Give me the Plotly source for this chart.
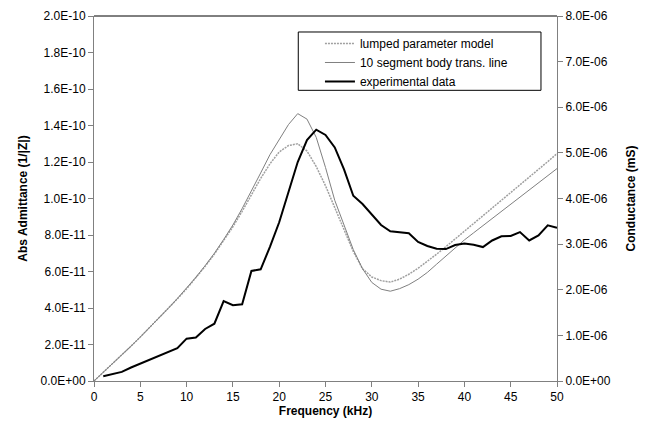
import plotly.graph_objects as go

# Frequency points (kHz)
freq_model = list(range(0, 51))
freq_exp = list(range(1, 51))

# Abs admittance, units of 1e-12 (1/|Z|)
lumped = [0, 4.7, 9.4, 14.2, 19.1, 24.1, 29.2, 34.4, 39.7, 45.0,
          50.5, 56.5, 62.8, 69.5, 76.8, 84.5, 93.0, 102.0, 111.0, 119.0,
          125.5, 129.0, 130.0, 126.0, 117.5, 107.0, 95.0, 82.0, 71.0, 61.5,
          57.0, 55.0, 54.2, 55.8, 58.5, 61.8, 65.5, 69.5, 73.6, 77.8,
          82.0, 86.2, 90.4, 94.6, 98.8, 103.0, 107.3, 111.6, 115.9, 120.2,
          124.6]
trans_line = [0, 4.7, 9.4, 14.2, 19.1, 24.1, 29.2, 34.4, 39.7, 45.2,
              50.8, 56.8, 63.2, 70.0, 77.5, 85.5, 94.5, 104.0, 114.0, 124.0,
              132.5, 140.5, 146.5, 143.5, 133.5, 117.0, 99.0, 85.0, 72.0, 61.5,
              54.0, 50.3, 49.2, 50.6, 52.8, 55.8, 59.5, 64.0, 68.5, 73.0,
              77.3, 81.2, 85.1, 89.0, 93.0, 96.9, 100.8, 104.7, 108.6, 112.5,
              116.4]
# Conductance, units of 1e-6 mS
experimental = [0.104, 0.148, 0.200, 0.296, 0.384, 0.472, 0.552, 0.632, 0.720, 0.928,
                0.952, 1.140, 1.256, 1.752, 1.660, 1.680, 2.412, 2.448, 2.940, 3.480,
                4.120, 4.800, 5.280, 5.508, 5.392, 5.120, 4.640, 4.060, 3.880, 3.660,
                3.420, 3.280, 3.252, 3.240, 3.048, 2.960, 2.900, 2.892, 2.980, 3.012,
                2.988, 2.936, 3.080, 3.172, 3.180, 3.264, 3.080, 3.192, 3.412, 3.360]

left_tickvals = [i * 2e-11 for i in range(11)]
left_ticktext = ["0.0E+00", "2.0E-11", "4.0E-11", "6.0E-11", "8.0E-11", "1.0E-10",
                 "1.2E-10", "1.4E-10", "1.6E-10", "1.8E-10", "2.0E-10"]
right_tickvals = [i * 1e-6 for i in range(9)]
right_ticktext = ["0.0E+00", "1.0E-06", "2.0E-06", "3.0E-06", "4.0E-06", "5.0E-06",
                  "6.0E-06", "7.0E-06", "8.0E-06"]
x_tickvals = [0, 5, 10, 15, 20, 25, 30, 35, 40, 45, 50]

FONT = "Liberation Sans, Arial, sans-serif"
AXC = "#808080"

fig = go.Figure()
fig.add_trace(go.Scatter(x=freq_model, y=[v * 1e-12 for v in lumped], mode="lines",
                         name="lumped parameter model",
                         line=dict(color="#a0a0a0", width=1.5, dash="2px,1px")))
fig.add_trace(go.Scatter(x=freq_model, y=[v * 1e-12 for v in trans_line], mode="lines",
                         name="10 segment body trans. line",
                         line=dict(color="#808080", width=1)))
fig.add_trace(go.Scatter(x=freq_exp, y=[v * 1e-6 for v in experimental], mode="lines",
                         name="experimental data", yaxis="y2",
                         line=dict(color="#000000", width=2)))

fig.update_layout(
    width=639, height=423,
    margin=dict(l=86, r=90, t=8, b=50, autoexpand=False),
    paper_bgcolor="white", plot_bgcolor="white",
    font=dict(family=FONT, size=12, color="black"),
    showlegend=True,
    legend=dict(x=0.488, y=0.9644, xanchor="left", yanchor="top",
                bgcolor="rgba(0,0,0,0)", borderwidth=0,
                font=dict(family=FONT, size=12, color="black"),
                tracegroupgap=0),
    xaxis=dict(range=[0, 50], tickvals=x_tickvals, ticks="outside", ticklen=5,
               tickcolor=AXC, showline=True, linecolor=AXC, linewidth=1,
               showgrid=False, zeroline=False, automargin=False,
               title=dict(text="<b>Frequency (kHz)</b>", standoff=0,
                          font=dict(family=FONT, size=12))),
    yaxis=dict(range=[0, 2e-10], tickvals=left_tickvals, ticktext=left_ticktext,
               ticks="outside", ticklen=5, tickcolor=AXC, showline=True,
               linecolor=AXC, linewidth=1, showgrid=False, zeroline=False,
               automargin=False,
               title=dict(text="<b>Abs Admittance (1/|Z|)</b>", standoff=10,
                          font=dict(family=FONT, size=12))),
    yaxis2=dict(range=[0, 8e-6], tickvals=right_tickvals, ticktext=right_ticktext,
                overlaying="y", side="right", ticks="outside", ticklen=5,
                tickcolor=AXC, showline=True, linecolor=AXC, linewidth=1,
                showgrid=False, zeroline=False, automargin=False,
                title=dict(text="<b>Conductance (mS)</b>", standoff=16,
                           font=dict(family=FONT, size=12))),
    yaxis3=dict(range=[0, 8e-6], tickvals=right_tickvals, overlaying="y",
                side="right", ticks="inside", ticklen=5, tickcolor=AXC,
                showticklabels=False, showline=False, showgrid=False,
                zeroline=False, automargin=False),
    shapes=[
        dict(type="line", xref="paper", yref="paper", x0=0, x1=1, y0=1, y1=1,
             line=dict(color="#000000", width=1)),
        dict(type="rect", xref="paper", yref="paper", x0=0.4412, x1=0.9654,
             y0=0.7964, y1=0.9562, line=dict(color="#000000", width=1),
             fillcolor="rgba(0,0,0,0)", layer="above"),
    ],
)

fig.write_html("out.html")
